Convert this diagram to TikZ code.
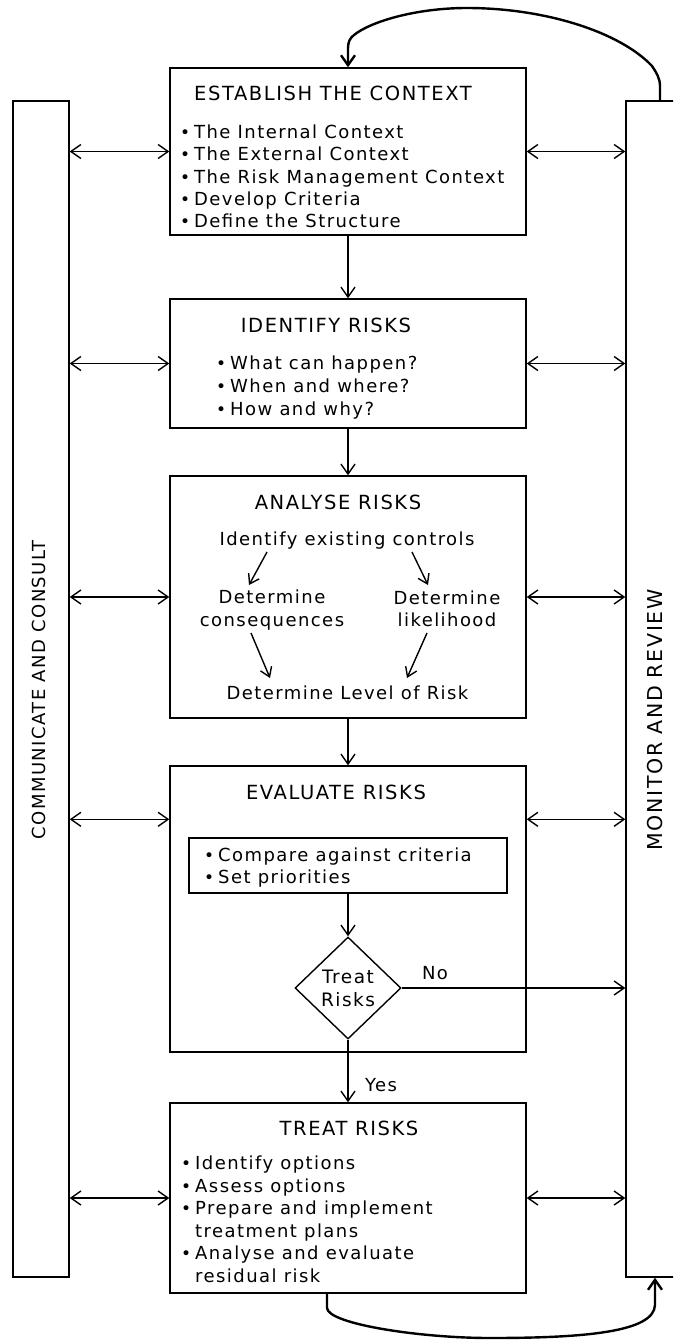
\documentclass[tikz,border=0pt]{standalone}
\usepackage{fontspec}
\setmainfont{DejaVu Sans}[LetterSpace=8]
\usetikzlibrary{arrows.meta,shapes.geometric}
\newcommand{\bul}{\makebox[14pt][l]{\fontsize{17}{17}\selectfont\raisebox{-0.5pt}{•}}}
\begin{document}
\begin{tikzpicture}[x=1pt,y=-1pt,
  box/.style={draw,line width=1.4pt,inner sep=0pt},
  conn/.style={line width=1.4pt,-{Straight Barb[length=10pt,width=14pt]}},
  both/.style={line width=1.4pt,{Straight Barb[length=10pt,width=14pt]}-{Straight Barb[length=10pt,width=14pt]}},
  small/.style={line width=1.4pt,-{Straight Barb[length=9pt,width=12pt]}},
  loop/.style={line width=2.4pt,-{Straight Barb[length=10pt,width=14pt]}},
  ttl/.style={font=\fontsize{19.5}{23}\selectfont,anchor=base,inner sep=0pt},
  txt/.style={font=\fontsize{18}{22.5}\selectfont,anchor=base west,inner sep=0pt},
  ctr/.style={font=\fontsize{18}{22.5}\selectfont,align=center,inner sep=0pt},
  side/.style={rotate=90,inner sep=0pt}]
\clip (0,0) rectangle (673,1342);
\fill[white] (0,0) rectangle (673,1342);

% columns
\node[box,minimum width=56pt,minimum height=1176pt] (com) at (41,689) {};
\node[box,minimum width=64pt,minimum height=1176pt] (mon) at (658,689) {};
\node[side,font=\fontsize{18}{22}\selectfont] (comt) at (39,690) {COMMUNICATE AND CONSULT};
\node[side,font=\fontsize{20.5}{24}\selectfont] (mont) at (655,720) {MONITOR AND REVIEW};

% boxes
\node[box,minimum width=356pt,minimum height=167pt] (est) at (348,151.5) {};
\node[box,minimum width=356pt,minimum height=129pt] (idr) at (348,363.5) {};
\node[box,minimum width=356pt,minimum height=242pt] (ana) at (348,597) {};
\node[box,minimum width=356pt,minimum height=286pt] (eva) at (348,909) {};
\node[box,minimum width=356pt,minimum height=190pt] (trt) at (348,1198) {};
\node[box,minimum width=318pt,minimum height=55pt] (evi) at (348,865.5) {};
\node[box,diamond,minimum width=106pt,minimum height=102pt,align=center,
      font=\fontsize{18.5}{23}\selectfont] (dia) at (348,988) {Treat\\Risks};

% establish
\node[ttl] (estt) at (333,100.5) {ESTABLISH THE CONTEXT};
\node[txt] (est1) at (180,138) {\bul The Internal Context};
\node[txt] (est2) at (180,160) {\bul The External Context};
\node[txt] (est3) at (180,183) {\bul The Risk Management Context};
\node[txt] (est4) at (180,205) {\bul Develop Criteria};
\node[txt] (est5) at (180,227) {\bul Define the Structure};

% identify
\node[ttl] (idrt) at (326,332) {IDENTIFY RISKS};
\node[txt] (idr1) at (216,369) {\bul What can happen?};
\node[txt] (idr2) at (216,392) {\bul When and where?};
\node[txt] (idr3) at (216,415) {\bul How and why?};

% analyse
\node[ttl] (anat) at (338,509) {ANALYSE RISKS};
\node[txt,anchor=base] (a1) at (347,545) {Identify existing controls};
\node[ctr] (a2) at (272,610) {Determine\\consequences};
\node[ctr] (a3) at (447,609) {Determine\\likelihood};
\node[txt,anchor=base] (a4) at (347.5,699) {Determine Level of Risk};
\coordinate (s1) at (267,552); \coordinate (e1) at (249,585);
\coordinate (s2) at (412,552); \coordinate (e2) at (428,585);
\coordinate (s3) at (251,633); \coordinate (e3) at (270,678);
\coordinate (s4) at (427,633); \coordinate (e4) at (407,678);
\draw[small] (s1) -- (e1);
\draw[small] (s2) -- (e2);
\draw[small] (s3) -- (e3);
\draw[small] (s4) -- (e4);

% evaluate
\node[ttl] (evat) at (336,799) {EVALUATE RISKS};
\node[txt] (evi1) at (204,861) {\bul Compare against criteria};
\node[txt] (evi2) at (204,883) {\bul Set priorities};

% treat
\node[ttl] (trtt) at (349,1135) {TREAT RISKS};
\node[txt] (trt1) at (181,1169) {\bul Identify options};
\node[txt] (trt2) at (181,1192) {\bul Assess options};
\node[txt] (trt3) at (181,1214) {\bul Prepare and implement};
\node[txt] (trt4) at (195,1237) {treatment plans};
\node[txt] (trt5) at (181,1259) {\bul Analyse and evaluate};
\node[txt] (trt6) at (195,1282) {residual risk};

% vertical flow
\draw[conn] (est.south) -- (idr.north);
\draw[conn] (idr.south) -- (ana.north);
\draw[conn] (ana.south) -- (eva.north);
\draw[conn] (evi.south) -- (dia.north);
\draw[conn] (dia.south) -- (trt.north);
\node[txt,anchor=base] (yes) at (381,1091) {Yes};
\draw[conn] (dia.east) -- (dia.east -| mon.west);
\node[txt,anchor=base] (no) at (435,979) {No};

% side arrows
\path (eva.north west) ++(0,54) coordinate (evl);
\path (eva.north east) ++(0,54) coordinate (evr);
\draw[both] (com.east |- est.west) -- (est.west);
\draw[both] (est.east) -- (mon.west |- est.east);
\draw[both] (com.east |- idr.west) -- (idr.west);
\draw[both] (idr.east) -- (mon.west |- idr.east);
\draw[both] (com.east |- ana.west) -- (ana.west);
\draw[both] (ana.east) -- (mon.west |- ana.east);
\draw[both] (com.east |- evl) -- (evl);
\draw[both] (evr) -- (mon.west |- evr);
\draw[both] (com.east |- trt.west) -- (trt.west);
\draw[both] (trt.east) -- (mon.west |- trt.east);

% loops
\coordinate (lp) at (660,0);
\coordinate (bl) at (327,0);
\coordinate (br) at (655,0);
\draw[loop] (mon.north -| lp) -- (660,86) .. controls (660,78) and (656,72) .. (652,66)
  .. controls (620,32) and (545,8) .. (467,8)
  .. controls (415,8) and (370,22) .. (354,35)
  .. controls (350,38) and (348,42) .. (348,48) -- (est.north);
\draw[loop] (trt.south -| bl) -- (327,1308) .. controls (328,1324) and (420,1338) .. (490,1338)
  .. controls (585,1338) and (654,1332) .. (655,1305) -- (mon.south -| br);
\end{tikzpicture}
\end{document}
